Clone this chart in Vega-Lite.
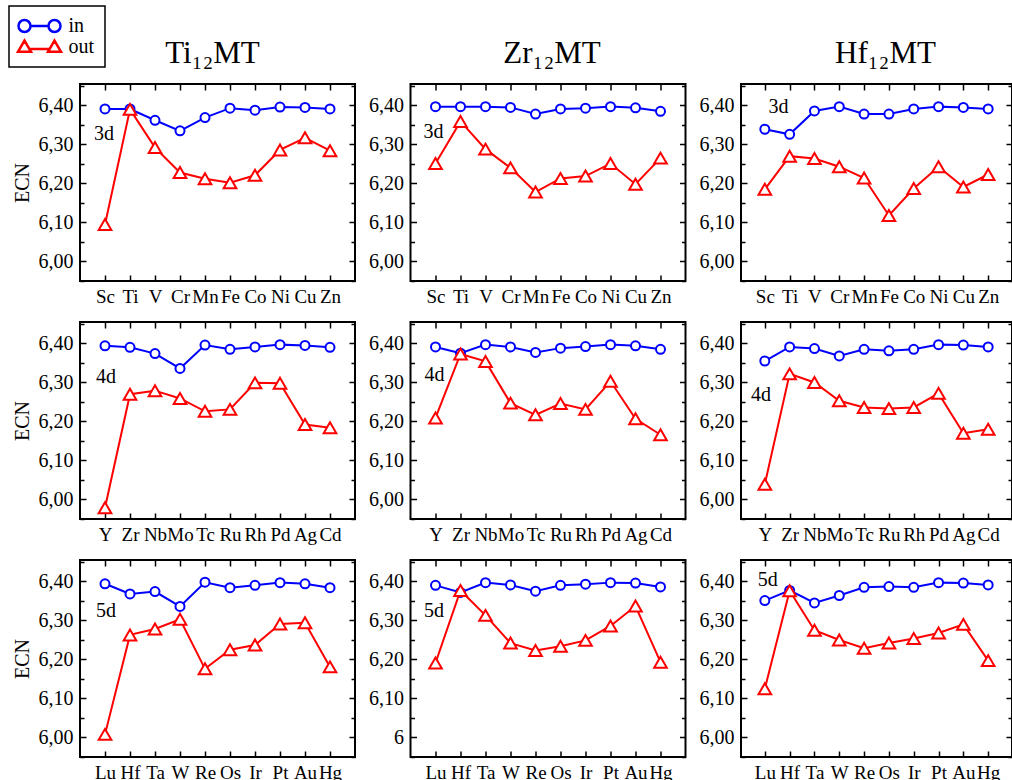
{
 "$schema": "https://vega.github.io/schema/vega-lite/v6.json",
 "padding": {"left": 8, "top": 5, "right": 0, "bottom": 0},
 "background": "white",
 "columns": 3,
 "spacing": {"row": 41, "column": 55.5},
 "bounds": "flush",
 "datasets": {"d": [
  {"h":"Ti","r":"3d","M":"Sc","in":6.391,"out":6.095},{"h":"Ti","r":"3d","M":"Ti","in":6.391,"out":6.390},{"h":"Ti","r":"3d","M":"V","in":6.362,"out":6.292},{"h":"Ti","r":"3d","M":"Cr","in":6.335,"out":6.228},{"h":"Ti","r":"3d","M":"Mn","in":6.369,"out":6.212},{"h":"Ti","r":"3d","M":"Fe","in":6.393,"out":6.202},{"h":"Ti","r":"3d","M":"Co","in":6.388,"out":6.221},{"h":"Ti","r":"3d","M":"Ni","in":6.396,"out":6.286},{"h":"Ti","r":"3d","M":"Cu","in":6.395,"out":6.317},{"h":"Ti","r":"3d","M":"Zn","in":6.391,"out":6.284},
  {"h":"Zr","r":"3d","M":"Sc","in":6.397,"out":6.251},{"h":"Zr","r":"3d","M":"Ti","in":6.397,"out":6.359},{"h":"Zr","r":"3d","M":"V","in":6.397,"out":6.288},{"h":"Zr","r":"3d","M":"Cr","in":6.395,"out":6.240},{"h":"Zr","r":"3d","M":"Mn","in":6.378,"out":6.178},{"h":"Zr","r":"3d","M":"Fe","in":6.391,"out":6.213},{"h":"Zr","r":"3d","M":"Co","in":6.393,"out":6.219},{"h":"Zr","r":"3d","M":"Ni","in":6.397,"out":6.251},{"h":"Zr","r":"3d","M":"Cu","in":6.394,"out":6.198},{"h":"Zr","r":"3d","M":"Zn","in":6.385,"out":6.265},
  {"h":"Hf","r":"3d","M":"Sc","in":6.339,"out":6.185},{"h":"Hf","r":"3d","M":"Ti","in":6.326,"out":6.270},{"h":"Hf","r":"3d","M":"V","in":6.386,"out":6.264},{"h":"Hf","r":"3d","M":"Cr","in":6.397,"out":6.243},{"h":"Hf","r":"3d","M":"Mn","in":6.378,"out":6.214},{"h":"Hf","r":"3d","M":"Fe","in":6.378,"out":6.118},{"h":"Hf","r":"3d","M":"Co","in":6.391,"out":6.187},{"h":"Hf","r":"3d","M":"Ni","in":6.397,"out":6.243},{"h":"Hf","r":"3d","M":"Cu","in":6.395,"out":6.191},{"h":"Hf","r":"3d","M":"Zn","in":6.391,"out":6.223},
  {"h":"Ti","r":"4d","M":"Y","in":6.394,"out":5.979},{"h":"Ti","r":"4d","M":"Zr","in":6.390,"out":6.270},{"h":"Ti","r":"4d","M":"Nb","in":6.374,"out":6.279},{"h":"Ti","r":"4d","M":"Mo","in":6.336,"out":6.259},{"h":"Ti","r":"4d","M":"Tc","in":6.396,"out":6.226},{"h":"Ti","r":"4d","M":"Ru","in":6.385,"out":6.231},{"h":"Ti","r":"4d","M":"Rh","in":6.391,"out":6.299},{"h":"Ti","r":"4d","M":"Pd","in":6.397,"out":6.298},{"h":"Ti","r":"4d","M":"Ag","in":6.395,"out":6.192},{"h":"Ti","r":"4d","M":"Cd","in":6.390,"out":6.184},
  {"h":"Zr","r":"4d","M":"Y","in":6.391,"out":6.209},{"h":"Zr","r":"4d","M":"Zr","in":6.375,"out":6.373},{"h":"Zr","r":"4d","M":"Nb","in":6.397,"out":6.354},{"h":"Zr","r":"4d","M":"Mo","in":6.391,"out":6.247},{"h":"Zr","r":"4d","M":"Tc","in":6.377,"out":6.217},{"h":"Zr","r":"4d","M":"Ru","in":6.388,"out":6.246},{"h":"Zr","r":"4d","M":"Rh","in":6.392,"out":6.231},{"h":"Zr","r":"4d","M":"Pd","in":6.397,"out":6.303},{"h":"Zr","r":"4d","M":"Ag","in":6.394,"out":6.207},{"h":"Zr","r":"4d","M":"Cd","in":6.385,"out":6.166},
  {"h":"Hf","r":"4d","M":"Y","in":6.355,"out":6.039},{"h":"Hf","r":"4d","M":"Zr","in":6.391,"out":6.322},{"h":"Hf","r":"4d","M":"Nb","in":6.387,"out":6.300},{"h":"Hf","r":"4d","M":"Mo","in":6.368,"out":6.253},{"h":"Hf","r":"4d","M":"Tc","in":6.385,"out":6.236},{"h":"Hf","r":"4d","M":"Ru","in":6.381,"out":6.233},{"h":"Hf","r":"4d","M":"Rh","in":6.385,"out":6.236},{"h":"Hf","r":"4d","M":"Pd","in":6.397,"out":6.272},{"h":"Hf","r":"4d","M":"Ag","in":6.396,"out":6.170},{"h":"Hf","r":"4d","M":"Cd","in":6.391,"out":6.180},
  {"h":"Ti","r":"5d","M":"Lu","in":6.394,"out":6.008},{"h":"Ti","r":"5d","M":"Hf","in":6.368,"out":6.263},{"h":"Ti","r":"5d","M":"Ta","in":6.374,"out":6.278},{"h":"Ti","r":"5d","M":"W","in":6.336,"out":6.303},{"h":"Ti","r":"5d","M":"Re","in":6.398,"out":6.176},{"h":"Ti","r":"5d","M":"Os","in":6.384,"out":6.225},{"h":"Ti","r":"5d","M":"Ir","in":6.390,"out":6.237},{"h":"Ti","r":"5d","M":"Pt","in":6.397,"out":6.291},{"h":"Ti","r":"5d","M":"Au","in":6.394,"out":6.294},{"h":"Ti","r":"5d","M":"Hg","in":6.384,"out":6.181},
  {"h":"Zr","r":"5d","M":"Lu","in":6.390,"out":6.191},{"h":"Zr","r":"5d","M":"Hf","in":6.372,"out":6.377},{"h":"Zr","r":"5d","M":"Ta","in":6.397,"out":6.313},{"h":"Zr","r":"5d","M":"W","in":6.391,"out":6.242},{"h":"Zr","r":"5d","M":"Re","in":6.375,"out":6.223},{"h":"Zr","r":"5d","M":"Os","in":6.390,"out":6.234},{"h":"Zr","r":"5d","M":"Ir","in":6.393,"out":6.249},{"h":"Zr","r":"5d","M":"Pt","in":6.397,"out":6.286},{"h":"Zr","r":"5d","M":"Au","in":6.396,"out":6.337},{"h":"Zr","r":"5d","M":"Hg","in":6.386,"out":6.193},
  {"h":"Hf","r":"5d","M":"Lu","in":6.351,"out":6.125},{"h":"Hf","r":"5d","M":"Hf","in":6.377,"out":6.376},{"h":"Hf","r":"5d","M":"Ta","in":6.345,"out":6.275},{"h":"Hf","r":"5d","M":"W","in":6.364,"out":6.250},{"h":"Hf","r":"5d","M":"Re","in":6.385,"out":6.229},{"h":"Hf","r":"5d","M":"Os","in":6.387,"out":6.242},{"h":"Hf","r":"5d","M":"Ir","in":6.385,"out":6.254},{"h":"Hf","r":"5d","M":"Pt","in":6.397,"out":6.268},{"h":"Hf","r":"5d","M":"Au","in":6.396,"out":6.290},{"h":"Hf","r":"5d","M":"Hg","in":6.391,"out":6.197}
 ]},
 "concat": [
  {"width": 275, "height": 197, "data": {"name": "d"},
   "title": {"text": "Ti₁₂MT", "dx": -5},
   "transform": [{"filter": "datum.h == 'Ti' && datum.r == '3d'"}],
   "layer": [
    {"mark": {"type": "line", "color": "#0000ff", "strokeWidth": 2},
     "encoding": {
      "x": {"field": "M", "type": "ordinal", "scale": {"type": "point", "domain": ["Sc","Ti","V","Cr","Mn","Fe","Co","Ni","Cu","Zn"], "padding": 1}, "axis": {"orient": "bottom", "title": null, "labelAngle": 0, "labelFont": "Liberation Serif", "labelFontSize": 19, "tickSize": -6, "labelPadding": 12, "labelOverlap": false}},
      "y": {"field": "in", "type": "quantitative", "scale": {"domain": [5.95, 6.455], "nice": false, "zero": false}, "axis": {"orient": "left", "title": "ECN", "values": [6, 6.1, 6.2, 6.3, 6.4], "labelExpr": "replace(format(datum.value, '.2f'), '.', ',')", "labelFont": "Liberation Serif", "tickSize": -6, "labelPadding": 13, "titlePadding": 6}}}},
    {"mark": {"type": "point", "shape": "circle", "size": 81, "stroke": "#0000ff", "fill": "white", "strokeWidth": 2, "opacity": 1},
     "encoding": {"x": {"field": "M", "type": "ordinal", "axis": null}, "y": {"field": "in", "type": "quantitative", "axis": null}}},
    {"mark": {"type": "line", "color": "#ff0000", "strokeWidth": 2},
     "encoding": {"x": {"field": "M", "type": "ordinal", "axis": null}, "y": {"field": "out", "type": "quantitative", "axis": null}}},
    {"mark": {"type": "point", "shape": "triangle-up", "size": 160, "stroke": "#ff0000", "fill": "white", "strokeWidth": 2, "opacity": 1},
     "encoding": {"x": {"field": "M", "type": "ordinal", "axis": null}, "y": {"field": "out", "type": "quantitative", "axis": null}}},
    {"mark": {"type": "point", "opacity": 0},
     "encoding": {"x": {"field": "M", "type": "ordinal", "axis": {"orient": "top", "title": null, "labels": false, "tickSize": -6}}, "y": {"field": "in", "type": "quantitative", "axis": {"orient": "right", "title": null, "labels": false, "values": [6, 6.1, 6.2, 6.3, 6.4], "tickSize": -6}}}},
    {"mark": {"type": "point", "opacity": 0},
     "encoding": {"x": {"field": "M", "type": "ordinal", "axis": null}, "y": {"field": "in", "type": "quantitative", "axis": {"orient": "left", "title": null, "labels": false, "values": [5.95, 6.05, 6.15, 6.25, 6.35, 6.45], "tickSize": -4}}}},
    {"mark": {"type": "point", "opacity": 0},
     "encoding": {"x": {"field": "M", "type": "ordinal", "axis": null}, "y": {"field": "in", "type": "quantitative", "axis": {"orient": "right", "title": null, "labels": false, "values": [5.95, 6.05, 6.15, 6.25, 6.35, 6.45], "tickSize": -4}}}},
    {"transform": [{"filter": "datum.M == 'Sc'"}],
     "mark": {"type": "text", "text": "3d", "fontSize": 20, "font": "Liberation Serif", "color": "black", "align": "center", "baseline": "middle", "dx": -1},
     "encoding": {"x": {"datum": "Sc", "type": "ordinal", "axis": null}, "y": {"datum": 6.326, "type": "quantitative", "axis": null}}},
    {"transform": [{"filter": "false"}], "mark": {"type": "point", "filled": false, "strokeWidth": 2.5, "opacity": 1},
     "encoding": {
      "x": {"field": "M", "type": "ordinal", "axis": null},
      "y": {"field": "in", "type": "quantitative", "axis": null},
      "shape": {"field": "h", "type": "nominal", "scale": {"domain": ["in", "out"], "range": ["M-2.625,0A0.75,0.75,0,1,1,-1.125,0A0.75,0.75,0,1,1,-2.625,0ZM-1.125,0L1.125,0M1.125,0A0.75,0.75,0,1,1,2.625,0A0.75,0.75,0,1,1,1.125,0Z", "M-1.875,-0.8L-1.0625,0.6L-2.6875,0.6ZM-1.266,0.25L1.266,0.25M1.875,-0.8L2.6875,0.6L1.0625,0.6Z"]},
       "legend": {"title": null, "orient": "none", "legendX": -71, "legendY": -78, "symbolSize": 256, "symbolStrokeWidth": 2.5, "symbolOpacity": 1, "symbolOffset": 10.5, "labelOffset": 19, "labelFont": "Liberation Serif", "labelFontSize": 20, "labelColor": "black", "strokeColor": "black", "padding": 10, "rowPadding": -8, "symbolFillColor": "white"}},
      "color": {"field": "h", "type": "nominal", "scale": {"domain": ["in", "out"], "range": ["#0000ff", "#ff0000"]},
       "legend": {"title": null, "orient": "none", "legendX": -71, "legendY": -78, "symbolSize": 256, "symbolStrokeWidth": 2.5, "symbolOpacity": 1, "symbolOffset": 10.5, "labelOffset": 19, "labelFont": "Liberation Serif", "labelFontSize": 20, "labelColor": "black", "strokeColor": "black", "padding": 10, "rowPadding": -8, "symbolFillColor": "white"}}}}
   ],
   "resolve": {"axis": {"x": "independent", "y": "independent"}}},

  {"width": 275, "height": 197, "data": {"name": "d"},
   "title": {"text": "Zr₁₂MT", "dx": 4},
   "transform": [{"filter": "datum.h == 'Zr' && datum.r == '3d'"}],
   "layer": [
    {"mark": {"type": "line", "color": "#0000ff", "strokeWidth": 2},
     "encoding": {
      "x": {"field": "M", "type": "ordinal", "scale": {"type": "point", "domain": ["Sc","Ti","V","Cr","Mn","Fe","Co","Ni","Cu","Zn"], "padding": 1}, "axis": {"orient": "bottom", "title": null, "labelAngle": 0, "labelFont": "Liberation Serif", "labelFontSize": 19, "tickSize": -6, "labelPadding": 12, "labelOverlap": false}},
      "y": {"field": "in", "type": "quantitative", "scale": {"domain": [5.95, 6.455], "nice": false, "zero": false}, "axis": {"orient": "left", "title": null, "values": [6, 6.1, 6.2, 6.3, 6.4], "labelExpr": "replace(format(datum.value, '.2f'), '.', ',')", "labelFont": "Liberation Serif", "tickSize": -6, "labelPadding": 13}}}},
    {"mark": {"type": "point", "shape": "circle", "size": 81, "stroke": "#0000ff", "fill": "white", "strokeWidth": 2, "opacity": 1},
     "encoding": {"x": {"field": "M", "type": "ordinal", "axis": null}, "y": {"field": "in", "type": "quantitative", "axis": null}}},
    {"mark": {"type": "line", "color": "#ff0000", "strokeWidth": 2},
     "encoding": {"x": {"field": "M", "type": "ordinal", "axis": null}, "y": {"field": "out", "type": "quantitative", "axis": null}}},
    {"mark": {"type": "point", "shape": "triangle-up", "size": 160, "stroke": "#ff0000", "fill": "white", "strokeWidth": 2, "opacity": 1},
     "encoding": {"x": {"field": "M", "type": "ordinal", "axis": null}, "y": {"field": "out", "type": "quantitative", "axis": null}}},
    {"mark": {"type": "point", "opacity": 0},
     "encoding": {"x": {"field": "M", "type": "ordinal", "axis": {"orient": "top", "title": null, "labels": false, "tickSize": -6}}, "y": {"field": "in", "type": "quantitative", "axis": {"orient": "right", "title": null, "labels": false, "values": [6, 6.1, 6.2, 6.3, 6.4], "tickSize": -6}}}},
    {"mark": {"type": "point", "opacity": 0},
     "encoding": {"x": {"field": "M", "type": "ordinal", "axis": null}, "y": {"field": "in", "type": "quantitative", "axis": {"orient": "left", "title": null, "labels": false, "values": [5.95, 6.05, 6.15, 6.25, 6.35, 6.45], "tickSize": -4}}}},
    {"mark": {"type": "point", "opacity": 0},
     "encoding": {"x": {"field": "M", "type": "ordinal", "axis": null}, "y": {"field": "in", "type": "quantitative", "axis": {"orient": "right", "title": null, "labels": false, "values": [5.95, 6.05, 6.15, 6.25, 6.35, 6.45], "tickSize": -4}}}},
    {"transform": [{"filter": "datum.M == 'Sc'"}],
     "mark": {"type": "text", "text": "3d", "fontSize": 20, "font": "Liberation Serif", "color": "black", "align": "center", "baseline": "middle", "dx": -2},
     "encoding": {"x": {"datum": "Sc", "type": "ordinal", "axis": null}, "y": {"datum": 6.332, "type": "quantitative", "axis": null}}}
   ],
   "resolve": {"axis": {"x": "independent", "y": "independent"}}},

  {"width": 271, "height": 197, "data": {"name": "d"},
   "title": {"text": "Hf₁₂MT", "dx": 9},
   "transform": [{"filter": "datum.h == 'Hf' && datum.r == '3d'"}],
   "layer": [
    {"mark": {"type": "line", "color": "#0000ff", "strokeWidth": 2},
     "encoding": {
      "x": {"field": "M", "type": "ordinal", "scale": {"type": "point", "domain": ["Sc","Ti","V","Cr","Mn","Fe","Co","Ni","Cu","Zn"], "padding": 0.96}, "axis": {"orient": "bottom", "title": null, "labelAngle": 0, "labelFont": "Liberation Serif", "labelFontSize": 19, "tickSize": -6, "labelPadding": 12, "labelOverlap": false}},
      "y": {"field": "in", "type": "quantitative", "scale": {"domain": [5.95, 6.455], "nice": false, "zero": false}, "axis": {"orient": "left", "title": null, "values": [6, 6.1, 6.2, 6.3, 6.4], "labelExpr": "replace(format(datum.value, '.2f'), '.', ',')", "labelFont": "Liberation Serif", "tickSize": -6, "labelPadding": 13}}}},
    {"mark": {"type": "point", "shape": "circle", "size": 81, "stroke": "#0000ff", "fill": "white", "strokeWidth": 2, "opacity": 1},
     "encoding": {"x": {"field": "M", "type": "ordinal", "axis": null}, "y": {"field": "in", "type": "quantitative", "axis": null}}},
    {"mark": {"type": "line", "color": "#ff0000", "strokeWidth": 2},
     "encoding": {"x": {"field": "M", "type": "ordinal", "axis": null}, "y": {"field": "out", "type": "quantitative", "axis": null}}},
    {"mark": {"type": "point", "shape": "triangle-up", "size": 160, "stroke": "#ff0000", "fill": "white", "strokeWidth": 2, "opacity": 1},
     "encoding": {"x": {"field": "M", "type": "ordinal", "axis": null}, "y": {"field": "out", "type": "quantitative", "axis": null}}},
    {"mark": {"type": "point", "opacity": 0},
     "encoding": {"x": {"field": "M", "type": "ordinal", "axis": {"orient": "top", "title": null, "labels": false, "tickSize": -6}}, "y": {"field": "in", "type": "quantitative", "axis": {"orient": "right", "title": null, "labels": false, "values": [6, 6.1, 6.2, 6.3, 6.4], "tickSize": -6}}}},
    {"mark": {"type": "point", "opacity": 0},
     "encoding": {"x": {"field": "M", "type": "ordinal", "axis": null}, "y": {"field": "in", "type": "quantitative", "axis": {"orient": "left", "title": null, "labels": false, "values": [5.95, 6.05, 6.15, 6.25, 6.35, 6.45], "tickSize": -4}}}},
    {"mark": {"type": "point", "opacity": 0},
     "encoding": {"x": {"field": "M", "type": "ordinal", "axis": null}, "y": {"field": "in", "type": "quantitative", "axis": {"orient": "right", "title": null, "labels": false, "values": [5.95, 6.05, 6.15, 6.25, 6.35, 6.45], "tickSize": -4}}}},
    {"transform": [{"filter": "datum.M == 'Sc'"}],
     "mark": {"type": "text", "text": "3d", "fontSize": 20, "font": "Liberation Serif", "color": "black", "align": "center", "baseline": "middle", "dx": 13.7},
     "encoding": {"x": {"datum": "Sc", "type": "ordinal", "axis": null}, "y": {"datum": 6.397, "type": "quantitative", "axis": null}}}
   ],
   "resolve": {"axis": {"x": "independent", "y": "independent"}}},

  {"width": 275, "height": 197, "data": {"name": "d"},
   "transform": [{"filter": "datum.h == 'Ti' && datum.r == '4d'"}],
   "layer": [
    {"mark": {"type": "line", "color": "#0000ff", "strokeWidth": 2},
     "encoding": {
      "x": {"field": "M", "type": "ordinal", "scale": {"type": "point", "domain": ["Y","Zr","Nb","Mo","Tc","Ru","Rh","Pd","Ag","Cd"], "padding": 1}, "axis": {"orient": "bottom", "title": null, "labelAngle": 0, "labelFont": "Liberation Serif", "labelFontSize": 19, "tickSize": -6, "labelPadding": 12, "labelOverlap": false}},
      "y": {"field": "in", "type": "quantitative", "scale": {"domain": [5.95, 6.455], "nice": false, "zero": false}, "axis": {"orient": "left", "title": "ECN", "values": [6, 6.1, 6.2, 6.3, 6.4], "labelExpr": "replace(format(datum.value, '.2f'), '.', ',')", "labelFont": "Liberation Serif", "tickSize": -6, "labelPadding": 13, "titlePadding": 6}}}},
    {"mark": {"type": "point", "shape": "circle", "size": 81, "stroke": "#0000ff", "fill": "white", "strokeWidth": 2, "opacity": 1},
     "encoding": {"x": {"field": "M", "type": "ordinal", "axis": null}, "y": {"field": "in", "type": "quantitative", "axis": null}}},
    {"mark": {"type": "line", "color": "#ff0000", "strokeWidth": 2},
     "encoding": {"x": {"field": "M", "type": "ordinal", "axis": null}, "y": {"field": "out", "type": "quantitative", "axis": null}}},
    {"mark": {"type": "point", "shape": "triangle-up", "size": 160, "stroke": "#ff0000", "fill": "white", "strokeWidth": 2, "opacity": 1},
     "encoding": {"x": {"field": "M", "type": "ordinal", "axis": null}, "y": {"field": "out", "type": "quantitative", "axis": null}}},
    {"mark": {"type": "point", "opacity": 0},
     "encoding": {"x": {"field": "M", "type": "ordinal", "axis": {"orient": "top", "title": null, "labels": false, "tickSize": -6}}, "y": {"field": "in", "type": "quantitative", "axis": {"orient": "right", "title": null, "labels": false, "values": [6, 6.1, 6.2, 6.3, 6.4], "tickSize": -6}}}},
    {"mark": {"type": "point", "opacity": 0},
     "encoding": {"x": {"field": "M", "type": "ordinal", "axis": null}, "y": {"field": "in", "type": "quantitative", "axis": {"orient": "left", "title": null, "labels": false, "values": [5.95, 6.05, 6.15, 6.25, 6.35, 6.45], "tickSize": -4}}}},
    {"mark": {"type": "point", "opacity": 0},
     "encoding": {"x": {"field": "M", "type": "ordinal", "axis": null}, "y": {"field": "in", "type": "quantitative", "axis": {"orient": "right", "title": null, "labels": false, "values": [5.95, 6.05, 6.15, 6.25, 6.35, 6.45], "tickSize": -4}}}},
    {"transform": [{"filter": "datum.M == 'Y'"}],
     "mark": {"type": "text", "text": "4d", "fontSize": 20, "font": "Liberation Serif", "color": "black", "align": "center", "baseline": "middle", "dx": 1},
     "encoding": {"x": {"datum": "Y", "type": "ordinal", "axis": null}, "y": {"datum": 6.315, "type": "quantitative", "axis": null}}}
   ],
   "resolve": {"axis": {"x": "independent", "y": "independent"}}},

  {"width": 275, "height": 197, "data": {"name": "d"},
   "transform": [{"filter": "datum.h == 'Zr' && datum.r == '4d'"}],
   "layer": [
    {"mark": {"type": "line", "color": "#0000ff", "strokeWidth": 2},
     "encoding": {
      "x": {"field": "M", "type": "ordinal", "scale": {"type": "point", "domain": ["Y","Zr","Nb","Mo","Tc","Ru","Rh","Pd","Ag","Cd"], "padding": 1}, "axis": {"orient": "bottom", "title": null, "labelAngle": 0, "labelFont": "Liberation Serif", "labelFontSize": 19, "tickSize": -6, "labelPadding": 12, "labelOverlap": false}},
      "y": {"field": "in", "type": "quantitative", "scale": {"domain": [5.95, 6.455], "nice": false, "zero": false}, "axis": {"orient": "left", "title": null, "values": [6, 6.1, 6.2, 6.3, 6.4], "labelExpr": "replace(format(datum.value, '.2f'), '.', ',')", "labelFont": "Liberation Serif", "tickSize": -6, "labelPadding": 13}}}},
    {"mark": {"type": "point", "shape": "circle", "size": 81, "stroke": "#0000ff", "fill": "white", "strokeWidth": 2, "opacity": 1},
     "encoding": {"x": {"field": "M", "type": "ordinal", "axis": null}, "y": {"field": "in", "type": "quantitative", "axis": null}}},
    {"mark": {"type": "line", "color": "#ff0000", "strokeWidth": 2},
     "encoding": {"x": {"field": "M", "type": "ordinal", "axis": null}, "y": {"field": "out", "type": "quantitative", "axis": null}}},
    {"mark": {"type": "point", "shape": "triangle-up", "size": 160, "stroke": "#ff0000", "fill": "white", "strokeWidth": 2, "opacity": 1},
     "encoding": {"x": {"field": "M", "type": "ordinal", "axis": null}, "y": {"field": "out", "type": "quantitative", "axis": null}}},
    {"mark": {"type": "point", "opacity": 0},
     "encoding": {"x": {"field": "M", "type": "ordinal", "axis": {"orient": "top", "title": null, "labels": false, "tickSize": -6}}, "y": {"field": "in", "type": "quantitative", "axis": {"orient": "right", "title": null, "labels": false, "values": [6, 6.1, 6.2, 6.3, 6.4], "tickSize": -6}}}},
    {"mark": {"type": "point", "opacity": 0},
     "encoding": {"x": {"field": "M", "type": "ordinal", "axis": null}, "y": {"field": "in", "type": "quantitative", "axis": {"orient": "left", "title": null, "labels": false, "values": [5.95, 6.05, 6.15, 6.25, 6.35, 6.45], "tickSize": -4}}}},
    {"mark": {"type": "point", "opacity": 0},
     "encoding": {"x": {"field": "M", "type": "ordinal", "axis": null}, "y": {"field": "in", "type": "quantitative", "axis": {"orient": "right", "title": null, "labels": false, "values": [5.95, 6.05, 6.15, 6.25, 6.35, 6.45], "tickSize": -4}}}},
    {"transform": [{"filter": "datum.M == 'Y'"}],
     "mark": {"type": "text", "text": "4d", "fontSize": 20, "font": "Liberation Serif", "color": "black", "align": "center", "baseline": "middle", "dx": -1},
     "encoding": {"x": {"datum": "Y", "type": "ordinal", "axis": null}, "y": {"datum": 6.318, "type": "quantitative", "axis": null}}}
   ],
   "resolve": {"axis": {"x": "independent", "y": "independent"}}},

  {"width": 271, "height": 197, "data": {"name": "d"},
   "transform": [{"filter": "datum.h == 'Hf' && datum.r == '4d'"}],
   "layer": [
    {"mark": {"type": "line", "color": "#0000ff", "strokeWidth": 2},
     "encoding": {
      "x": {"field": "M", "type": "ordinal", "scale": {"type": "point", "domain": ["Y","Zr","Nb","Mo","Tc","Ru","Rh","Pd","Ag","Cd"], "padding": 0.96}, "axis": {"orient": "bottom", "title": null, "labelAngle": 0, "labelFont": "Liberation Serif", "labelFontSize": 19, "tickSize": -6, "labelPadding": 12, "labelOverlap": false}},
      "y": {"field": "in", "type": "quantitative", "scale": {"domain": [5.95, 6.455], "nice": false, "zero": false}, "axis": {"orient": "left", "title": null, "values": [6, 6.1, 6.2, 6.3, 6.4], "labelExpr": "replace(format(datum.value, '.2f'), '.', ',')", "labelFont": "Liberation Serif", "tickSize": -6, "labelPadding": 13}}}},
    {"mark": {"type": "point", "shape": "circle", "size": 81, "stroke": "#0000ff", "fill": "white", "strokeWidth": 2, "opacity": 1},
     "encoding": {"x": {"field": "M", "type": "ordinal", "axis": null}, "y": {"field": "in", "type": "quantitative", "axis": null}}},
    {"mark": {"type": "line", "color": "#ff0000", "strokeWidth": 2},
     "encoding": {"x": {"field": "M", "type": "ordinal", "axis": null}, "y": {"field": "out", "type": "quantitative", "axis": null}}},
    {"mark": {"type": "point", "shape": "triangle-up", "size": 160, "stroke": "#ff0000", "fill": "white", "strokeWidth": 2, "opacity": 1},
     "encoding": {"x": {"field": "M", "type": "ordinal", "axis": null}, "y": {"field": "out", "type": "quantitative", "axis": null}}},
    {"mark": {"type": "point", "opacity": 0},
     "encoding": {"x": {"field": "M", "type": "ordinal", "axis": {"orient": "top", "title": null, "labels": false, "tickSize": -6}}, "y": {"field": "in", "type": "quantitative", "axis": {"orient": "right", "title": null, "labels": false, "values": [6, 6.1, 6.2, 6.3, 6.4], "tickSize": -6}}}},
    {"mark": {"type": "point", "opacity": 0},
     "encoding": {"x": {"field": "M", "type": "ordinal", "axis": null}, "y": {"field": "in", "type": "quantitative", "axis": {"orient": "left", "title": null, "labels": false, "values": [5.95, 6.05, 6.15, 6.25, 6.35, 6.45], "tickSize": -4}}}},
    {"mark": {"type": "point", "opacity": 0},
     "encoding": {"x": {"field": "M", "type": "ordinal", "axis": null}, "y": {"field": "in", "type": "quantitative", "axis": {"orient": "right", "title": null, "labels": false, "values": [5.95, 6.05, 6.15, 6.25, 6.35, 6.45], "tickSize": -4}}}},
    {"transform": [{"filter": "datum.M == 'Y'"}],
     "mark": {"type": "text", "text": "4d", "fontSize": 20, "font": "Liberation Serif", "color": "black", "align": "center", "baseline": "middle", "dx": -3.8},
     "encoding": {"x": {"datum": "Y", "type": "ordinal", "axis": null}, "y": {"datum": 6.268, "type": "quantitative", "axis": null}}}
   ],
   "resolve": {"axis": {"x": "independent", "y": "independent"}}},

  {"width": 275, "height": 197, "data": {"name": "d"},
   "transform": [{"filter": "datum.h == 'Ti' && datum.r == '5d'"}],
   "layer": [
    {"mark": {"type": "line", "color": "#0000ff", "strokeWidth": 2},
     "encoding": {
      "x": {"field": "M", "type": "ordinal", "scale": {"type": "point", "domain": ["Lu","Hf","Ta","W","Re","Os","Ir","Pt","Au","Hg"], "padding": 1}, "axis": {"orient": "bottom", "title": null, "labelAngle": 0, "labelFont": "Liberation Serif", "labelFontSize": 19, "tickSize": -6, "labelPadding": 12, "labelOverlap": false}},
      "y": {"field": "in", "type": "quantitative", "scale": {"domain": [5.95, 6.455], "nice": false, "zero": false}, "axis": {"orient": "left", "title": "ECN", "values": [6, 6.1, 6.2, 6.3, 6.4], "labelExpr": "replace(format(datum.value, '.2f'), '.', ',')", "labelFont": "Liberation Serif", "tickSize": -6, "labelPadding": 13, "titlePadding": 6}}}},
    {"mark": {"type": "point", "shape": "circle", "size": 81, "stroke": "#0000ff", "fill": "white", "strokeWidth": 2, "opacity": 1},
     "encoding": {"x": {"field": "M", "type": "ordinal", "axis": null}, "y": {"field": "in", "type": "quantitative", "axis": null}}},
    {"mark": {"type": "line", "color": "#ff0000", "strokeWidth": 2},
     "encoding": {"x": {"field": "M", "type": "ordinal", "axis": null}, "y": {"field": "out", "type": "quantitative", "axis": null}}},
    {"mark": {"type": "point", "shape": "triangle-up", "size": 160, "stroke": "#ff0000", "fill": "white", "strokeWidth": 2, "opacity": 1},
     "encoding": {"x": {"field": "M", "type": "ordinal", "axis": null}, "y": {"field": "out", "type": "quantitative", "axis": null}}},
    {"mark": {"type": "point", "opacity": 0},
     "encoding": {"x": {"field": "M", "type": "ordinal", "axis": {"orient": "top", "title": null, "labels": false, "tickSize": -6}}, "y": {"field": "in", "type": "quantitative", "axis": {"orient": "right", "title": null, "labels": false, "values": [6, 6.1, 6.2, 6.3, 6.4], "tickSize": -6}}}},
    {"mark": {"type": "point", "opacity": 0},
     "encoding": {"x": {"field": "M", "type": "ordinal", "axis": null}, "y": {"field": "in", "type": "quantitative", "axis": {"orient": "left", "title": null, "labels": false, "values": [5.95, 6.05, 6.15, 6.25, 6.35, 6.45], "tickSize": -4}}}},
    {"mark": {"type": "point", "opacity": 0},
     "encoding": {"x": {"field": "M", "type": "ordinal", "axis": null}, "y": {"field": "in", "type": "quantitative", "axis": {"orient": "right", "title": null, "labels": false, "values": [5.95, 6.05, 6.15, 6.25, 6.35, 6.45], "tickSize": -4}}}},
    {"transform": [{"filter": "datum.M == 'Lu'"}],
     "mark": {"type": "text", "text": "5d", "fontSize": 20, "font": "Liberation Serif", "color": "black", "align": "center", "baseline": "middle", "dx": 1},
     "encoding": {"x": {"datum": "Lu", "type": "ordinal", "axis": null}, "y": {"datum": 6.323, "type": "quantitative", "axis": null}}}
   ],
   "resolve": {"axis": {"x": "independent", "y": "independent"}}},

  {"width": 275, "height": 197, "data": {"name": "d"},
   "transform": [{"filter": "datum.h == 'Zr' && datum.r == '5d'"}],
   "layer": [
    {"mark": {"type": "line", "color": "#0000ff", "strokeWidth": 2},
     "encoding": {
      "x": {"field": "M", "type": "ordinal", "scale": {"type": "point", "domain": ["Lu","Hf","Ta","W","Re","Os","Ir","Pt","Au","Hg"], "padding": 1}, "axis": {"orient": "bottom", "title": null, "labelAngle": 0, "labelFont": "Liberation Serif", "labelFontSize": 19, "tickSize": -6, "labelPadding": 12, "labelOverlap": false}},
      "y": {"field": "in", "type": "quantitative", "scale": {"domain": [5.95, 6.455], "nice": false, "zero": false}, "axis": {"orient": "left", "title": null, "values": [6, 6.1, 6.2, 6.3, 6.4], "labelExpr": "datum.value == 6 ? '6' : replace(format(datum.value, '.2f'), '.', ',')", "labelFont": "Liberation Serif", "tickSize": -6, "labelPadding": 13}}}},
    {"mark": {"type": "point", "shape": "circle", "size": 81, "stroke": "#0000ff", "fill": "white", "strokeWidth": 2, "opacity": 1},
     "encoding": {"x": {"field": "M", "type": "ordinal", "axis": null}, "y": {"field": "in", "type": "quantitative", "axis": null}}},
    {"mark": {"type": "line", "color": "#ff0000", "strokeWidth": 2},
     "encoding": {"x": {"field": "M", "type": "ordinal", "axis": null}, "y": {"field": "out", "type": "quantitative", "axis": null}}},
    {"mark": {"type": "point", "shape": "triangle-up", "size": 160, "stroke": "#ff0000", "fill": "white", "strokeWidth": 2, "opacity": 1},
     "encoding": {"x": {"field": "M", "type": "ordinal", "axis": null}, "y": {"field": "out", "type": "quantitative", "axis": null}}},
    {"mark": {"type": "point", "opacity": 0},
     "encoding": {"x": {"field": "M", "type": "ordinal", "axis": {"orient": "top", "title": null, "labels": false, "tickSize": -6}}, "y": {"field": "in", "type": "quantitative", "axis": {"orient": "right", "title": null, "labels": false, "values": [6, 6.1, 6.2, 6.3, 6.4], "tickSize": -6}}}},
    {"mark": {"type": "point", "opacity": 0},
     "encoding": {"x": {"field": "M", "type": "ordinal", "axis": null}, "y": {"field": "in", "type": "quantitative", "axis": {"orient": "left", "title": null, "labels": false, "values": [5.95, 6.05, 6.15, 6.25, 6.35, 6.45], "tickSize": -4}}}},
    {"mark": {"type": "point", "opacity": 0},
     "encoding": {"x": {"field": "M", "type": "ordinal", "axis": null}, "y": {"field": "in", "type": "quantitative", "axis": {"orient": "right", "title": null, "labels": false, "values": [5.95, 6.05, 6.15, 6.25, 6.35, 6.45], "tickSize": -4}}}},
    {"transform": [{"filter": "datum.M == 'Lu'"}],
     "mark": {"type": "text", "text": "5d", "fontSize": 20, "font": "Liberation Serif", "color": "black", "align": "center", "baseline": "middle", "dx": -1.5},
     "encoding": {"x": {"datum": "Lu", "type": "ordinal", "axis": null}, "y": {"datum": 6.323, "type": "quantitative", "axis": null}}}
   ],
   "resolve": {"axis": {"x": "independent", "y": "independent"}}},

  {"width": 271, "height": 197, "data": {"name": "d"},
   "transform": [{"filter": "datum.h == 'Hf' && datum.r == '5d'"}],
   "layer": [
    {"mark": {"type": "line", "color": "#0000ff", "strokeWidth": 2},
     "encoding": {
      "x": {"field": "M", "type": "ordinal", "scale": {"type": "point", "domain": ["Lu","Hf","Ta","W","Re","Os","Ir","Pt","Au","Hg"], "padding": 0.96}, "axis": {"orient": "bottom", "title": null, "labelAngle": 0, "labelFont": "Liberation Serif", "labelFontSize": 19, "tickSize": -6, "labelPadding": 12, "labelOverlap": false}},
      "y": {"field": "in", "type": "quantitative", "scale": {"domain": [5.95, 6.455], "nice": false, "zero": false}, "axis": {"orient": "left", "title": null, "values": [6, 6.1, 6.2, 6.3, 6.4], "labelExpr": "replace(format(datum.value, '.2f'), '.', ',')", "labelFont": "Liberation Serif", "tickSize": -6, "labelPadding": 13}}}},
    {"mark": {"type": "point", "shape": "circle", "size": 81, "stroke": "#0000ff", "fill": "white", "strokeWidth": 2, "opacity": 1},
     "encoding": {"x": {"field": "M", "type": "ordinal", "axis": null}, "y": {"field": "in", "type": "quantitative", "axis": null}}},
    {"mark": {"type": "line", "color": "#ff0000", "strokeWidth": 2},
     "encoding": {"x": {"field": "M", "type": "ordinal", "axis": null}, "y": {"field": "out", "type": "quantitative", "axis": null}}},
    {"mark": {"type": "point", "shape": "triangle-up", "size": 160, "stroke": "#ff0000", "fill": "white", "strokeWidth": 2, "opacity": 1},
     "encoding": {"x": {"field": "M", "type": "ordinal", "axis": null}, "y": {"field": "out", "type": "quantitative", "axis": null}}},
    {"mark": {"type": "point", "opacity": 0},
     "encoding": {"x": {"field": "M", "type": "ordinal", "axis": {"orient": "top", "title": null, "labels": false, "tickSize": -6}}, "y": {"field": "in", "type": "quantitative", "axis": {"orient": "right", "title": null, "labels": false, "values": [6, 6.1, 6.2, 6.3, 6.4], "tickSize": -6}}}},
    {"mark": {"type": "point", "opacity": 0},
     "encoding": {"x": {"field": "M", "type": "ordinal", "axis": null}, "y": {"field": "in", "type": "quantitative", "axis": {"orient": "left", "title": null, "labels": false, "values": [5.95, 6.05, 6.15, 6.25, 6.35, 6.45], "tickSize": -4}}}},
    {"mark": {"type": "point", "opacity": 0},
     "encoding": {"x": {"field": "M", "type": "ordinal", "axis": null}, "y": {"field": "in", "type": "quantitative", "axis": {"orient": "right", "title": null, "labels": false, "values": [5.95, 6.05, 6.15, 6.25, 6.35, 6.45], "tickSize": -4}}}},
    {"transform": [{"filter": "datum.M == 'Lu'"}],
     "mark": {"type": "text", "text": "5d", "fontSize": 20, "font": "Liberation Serif", "color": "black", "align": "center", "baseline": "middle", "dx": 3},
     "encoding": {"x": {"datum": "Lu", "type": "ordinal", "axis": null}, "y": {"datum": 6.403, "type": "quantitative", "axis": null}}}
   ],
   "resolve": {"axis": {"x": "independent", "y": "independent"}}}
 ],
 "config": {
  "view": {"stroke": "black", "strokeWidth": 2},
  "font": "Liberation Serif",
  "style": {"guide-label": {"font": "Liberation Serif"}, "guide-title": {"font": "Liberation Serif"}},
  "axis": {"domain": false, "grid": false, "tickColor": "black", "tickWidth": 1.5, "labelColor": "black", "labelFont": "Liberation Serif", "labelFontSize": 20, "titleFont": "Liberation Serif", "titleFontWeight": "normal", "titleColor": "black", "titleFontSize": 20},
  "legend": {"strokeWidth": 1.5},
  "title": {"font": "Liberation Serif", "fontSize": 31, "fontWeight": "normal", "color": "black", "anchor": "middle", "baseline": "alphabetic", "offset": 13}
 }
}
